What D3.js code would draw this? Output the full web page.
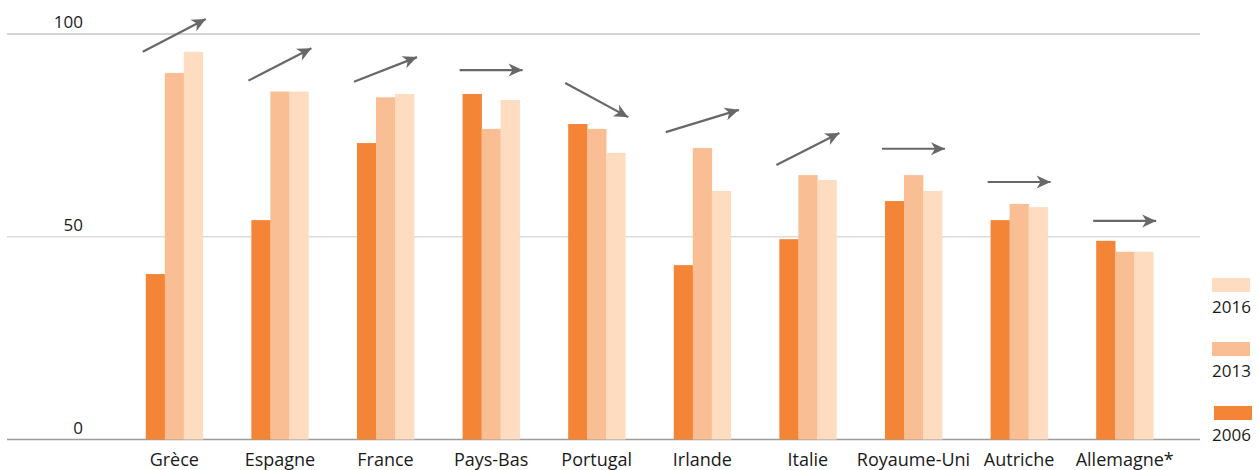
<!DOCTYPE html>
<html>
<head>
<meta charset="utf-8">
<script src="https://cdn.jsdelivr.net/npm/d3@7"></script>
<style>
  html, body { margin: 0; padding: 0; background: #ffffff; }
  svg { display: block; font-family: "Open Sans", "Noto Sans", sans-serif; }
</style>
</head>
<body>
<svg id="chart" width="1259" height="470"></svg>
<script>
// ---- Data ----
const categories = ["Grèce", "Espagne", "France", "Pays-Bas", "Portugal", "Irlande", "Italie", "Royaume-Uni", "Autriche", "Allemagne*"];
const seriesNames = ["2006", "2013", "2016"];
const values2006 = [40.8, 54.1, 73.1, 85.2, 77.8, 43.0, 49.4, 58.8, 54.1, 49.0];
const values2013 = [90.4, 85.8, 84.4, 76.6, 76.6, 71.9, 65.2, 65.2, 58.1, 46.3];
const values2016 = [95.6, 85.8, 85.2, 83.7, 70.7, 61.3, 64.0, 61.3, 57.3, 46.3];
const yTicks = [0, 50, 100];
// trend arrows (in value units): start and end levels
const arrowFrom = [95.6, 88.5, 88.2, 91.1, 87.9, 75.8, 67.7, 71.7, 63.5, 53.9];
const arrowTo   = [103.7, 96.5, 94.3, 91.1, 79.5, 81.3, 75.6, 71.7, 63.5, 53.9];
const arrowSpan = [1, 1, 1, 1, 1, 1.16, 1, 1, 1, 1];

const colors = { "2006": "#f48436", "2013": "#f9be93", "2016": "#fddcc0" };

const svg = d3.select("#chart");

const y = d3.scaleLinear().domain([0, 100]).range([439.5, 34]);
const x0 = d3.scaleBand().domain(categories).range([121.5, 1177.5]).paddingInner(0.46).paddingOuter(0.23);
const x1 = d3.scaleBand().domain(seriesNames).range([0, x0.bandwidth()]);

const seriesData = { "2006": values2006, "2013": values2013, "2016": values2016 };

// ---- Grid lines ----
const gridColor = { 0: "#9c9c9c", 50: "#dcdcdc", 100: "#c4c4c4" };
svg.append("g").selectAll("line").data(yTicks).join("line")
  .attr("x1", 7).attr("x2", 1200)
  .attr("y1", d => y(d)).attr("y2", d => y(d))
  .attr("stroke", d => gridColor[d])
  .attr("stroke-width", 1.5);

// ---- Y tick labels ----
svg.append("g").selectAll("text").data(yTicks).join("text")
  .attr("x", 83)
  .attr("y", d => y(d) - 6)
  .attr("text-anchor", "end")
  .attr("font-size", 17)
  .attr("fill", "#1a1a1a")
  .text(d => d);

// ---- Bars ----
const groups = svg.append("g").selectAll("g").data(categories).join("g")
  .attr("transform", d => `translate(${x0(d)},0)`);

groups.selectAll("rect")
  .data((d, i) => seriesNames.map(s => ({ s, v: seriesData[s][i] })))
  .join("rect")
  .attr("x", d => x1(d.s))
  .attr("width", x1.bandwidth() + 0.3)
  .attr("y", d => y(d.v))
  .attr("height", d => y(0) - y(d.v))
  .attr("fill", d => colors[d.s]);

// ---- Category labels ----
svg.append("g").selectAll("text").data(categories).join("text")
  .attr("x", d => x0(d) + x0.bandwidth() / 2)
  .attr("y", 466)
  .attr("text-anchor", "middle")
  .attr("font-size", 18)
  .attr("fill", "#1a1a1a")
  .text(d => d);

// ---- Arrows ----
const defs = svg.append("defs");
defs.append("marker")
  .attr("id", "ah")
  .attr("markerUnits", "userSpaceOnUse")
  .attr("viewBox", "-15 -7 16 14")
  .attr("refX", 0).attr("refY", 0)
  .attr("markerWidth", 16).attr("markerHeight", 14)
  .attr("orient", "auto")
  .append("path")
  .attr("d", "M0,0 L-14,-6.5 L-10,0 L-14,6.5 Z")
  .attr("fill", "#686868");

const halfArrow = 31.5;
svg.append("g").selectAll("line").data(categories).join("line")
  .attr("x1", (d, i) => x0(d) + x0.bandwidth() / 2 - halfArrow * arrowSpan[i])
  .attr("x2", (d, i) => x0(d) + x0.bandwidth() / 2 + halfArrow * arrowSpan[i])
  .attr("y1", (d, i) => y(arrowFrom[i]))
  .attr("y2", (d, i) => y(arrowTo[i]))
  .attr("stroke", "#686868")
  .attr("stroke-width", 2.2)
  .attr("marker-end", "url(#ah)");

// ---- Legend ----
const legendOrder = ["2016", "2013", "2006"];
const lg = svg.append("g").selectAll("g").data(legendOrder).join("g")
  .attr("transform", (d, i) => `translate(1212,${278 + i * 64})`);
lg.append("rect")
  .attr("x", (d) => d === "2006" ? 2 : 0)
  .attr("y", 0)
  .attr("width", 38).attr("height", 14)
  .attr("fill", d => colors[d]);
lg.append("text")
  .attr("x", 0).attr("y", 35)
  .attr("font-size", 17)
  .attr("fill", "#1a1a1a")
  .text(d => d);
</script>
</body>
</html>
